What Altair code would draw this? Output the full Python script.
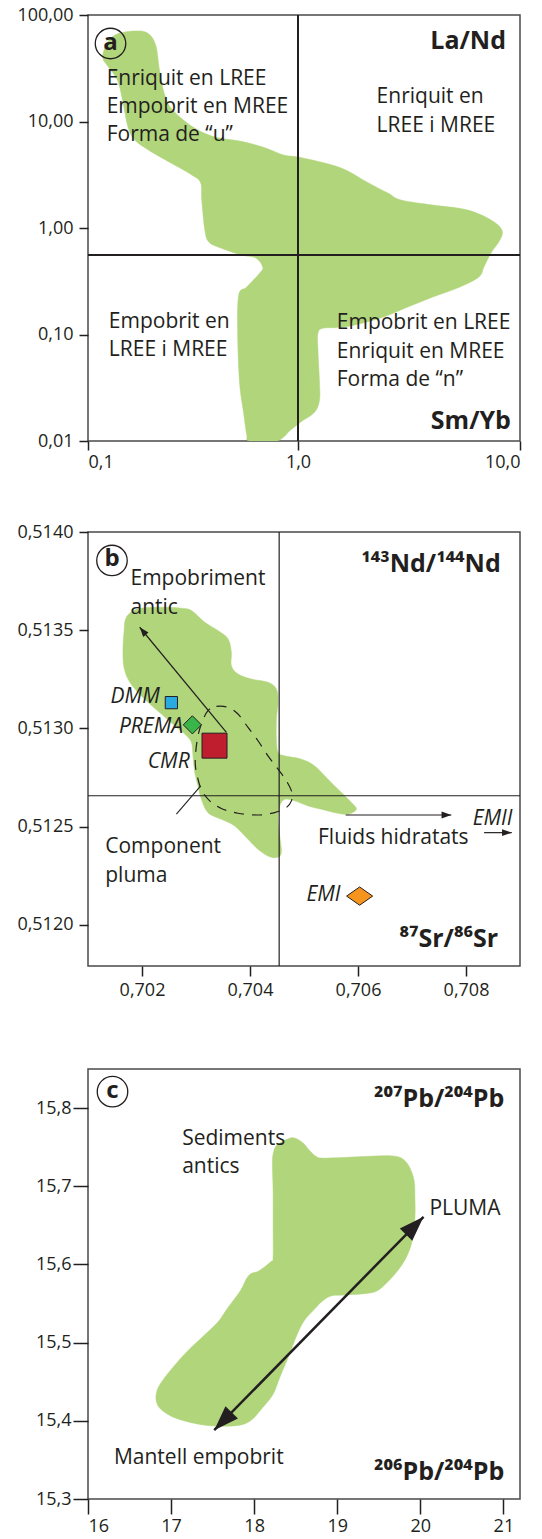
import altair as alt
import pandas as pd

GREEN = "#b1d57b"
INK = "#231f20"
FRAME = "#4a4a4a"
FONT = "Open Sans"
ARROW = "M0,0L-0.35,1L0.35,1Z"
FLAT_DIAMOND = "M-1,0L0,-0.7L1,0L0,0.7Z"

# ---------------- panel a : La/Nd vs Sm/Yb ----------------
A_POLY_X = [0.1175, 0.124, 0.138, 0.167, 0.192, 0.210, 0.219, 0.232, 0.253, 0.316,
            0.401, 0.527, 0.679, 0.855, 1.0, 1.32, 1.64, 2.04, 2.54, 2.91,
            4.05, 5.77, 7.40, 8.29, 8.12, 7.40, 6.88, 6.53, 5.36, 4.05,
            3.12, 2.36, 1.64, 1.31, 1.23, 1.23, 1.25, 1.25, 1.19, 1.03,
            0.923, 0.793, 0.589, 0.570, 0.551, 0.527, 0.516, 0.522, 0.570, 0.658,
            0.679, 0.630, 0.539, 0.428, 0.376, 0.360, 0.348, 0.344, 0.312, 0.234,
            0.194, 0.167, 0.155, 0.146, 0.138, 0.124]
A_POLY_Y = [40.3, 55.7, 66.4, 70.8, 67.8, 52.3, 30.5, 17.7, 12.8, 8.87,
            7.14, 6.56, 5.77, 4.84, 4.64, 4.07, 3.51, 2.71, 2.13, 1.83,
            1.64, 1.48, 1.19, 0.957, 0.771, 0.582, 0.431, 0.347, 0.279, 0.225,
            0.181, 0.143, 0.118, 0.115, 0.103, 0.0715, 0.0351, 0.0243, 0.0187, 0.0151,
            0.0127, 0.01, 0.01, 0.0114, 0.0183, 0.0351, 0.103, 0.235, 0.279, 0.378,
            0.431, 0.523, 0.557, 0.649, 0.740, 0.957, 1.83, 2.65, 3.15, 4.35,
            5.40, 6.70, 8.87, 15.9, 24.5, 33.2]
A_VLINE = 1.0
A_HLINE = 0.557
A_TXT = ["Enriquit en LREE", "Empobrit en MREE", "Forma de \u201cu\u201d",
         "Enriquit en", "LREE i MREE",
         "Empobrit en", "LREE i  MREE",
         "Empobrit en LREE", "Enriquit en MREE", "Forma de \u201cn\u201d"]
A_TXT_X = [0.1227, 0.1227, 0.1227, 2.26, 2.26, 0.1256, 0.1256, 1.495, 1.495, 1.495]
A_TXT_Y = [25.1, 13.7, 7.46, 17.0, 9.08, 0.131, 0.0715, 0.128, 0.0686, 0.0374]
A_BOLD = ["La/Nd", "Sm/Yb"]
A_BOLD_X = [8.65, 9.1]
A_BOLD_Y = [57.1, 0.0154]
A_TAG = ["a"]
A_TAG_X = [0.128]
A_TAG_Y = [54.0]
A_XTICKS = [0.1, 1, 10]
A_YTICKS = [0.01, 0.1, 1, 10, 100]

# ---------------- panel b : 143Nd/144Nd vs 87Sr/86Sr ----------------
B_POLY_X = [0.701667, 0.701711, 0.701926, 0.702359, 0.702730, 0.702915, 0.703161, 0.703407, 0.703593, 0.703655,
            0.703655, 0.703778, 0.704026, 0.704333, 0.704489, 0.704519, 0.704489, 0.704489, 0.704519, 0.704643,
            0.704952, 0.705198, 0.705444, 0.705693, 0.705878, 0.705970, 0.705815, 0.705569, 0.705322, 0.705074,
            0.704828, 0.704643, 0.704550, 0.704519, 0.704550, 0.704581, 0.704489, 0.704333, 0.704148, 0.703963,
            0.703717, 0.703470, 0.703222, 0.703100, 0.703037, 0.702976, 0.702944, 0.702915, 0.702791, 0.702606,
            0.702359, 0.702111, 0.701896, 0.701741, 0.701661, 0.701648]
B_POLY_Y = [0.513490, 0.513566, 0.513609, 0.513617, 0.513612, 0.513600, 0.513541, 0.513498, 0.513456, 0.513388,
            0.513319, 0.513277, 0.513251, 0.513235, 0.513200, 0.513133, 0.513047, 0.512945, 0.512878, 0.512860,
            0.512843, 0.512809, 0.512741, 0.512673, 0.512622, 0.512588, 0.512563, 0.512571, 0.512588, 0.512605,
            0.512631, 0.512639, 0.512605, 0.512537, 0.512452, 0.512367, 0.512342, 0.512350, 0.512384, 0.512435,
            0.512503, 0.512537, 0.512571, 0.512639, 0.512707, 0.512776, 0.512860, 0.512929, 0.512971, 0.513013,
            0.513073, 0.513133, 0.513192, 0.513251, 0.513319, 0.513405]
B_ELL_X = [0.703222, 0.703378, 0.703593, 0.703778, 0.703963, 0.704148, 0.704333, 0.704519, 0.704674, 0.704778,
           0.704767, 0.704674, 0.704457, 0.704148, 0.703778, 0.703470, 0.703254, 0.703111, 0.703037, 0.702989,
           0.702994, 0.703037, 0.703111]
B_ELL_Y = [0.513090, 0.513112, 0.513107, 0.513073, 0.513005, 0.512937, 0.512860, 0.512792, 0.512733, 0.512673,
           0.512631, 0.512597, 0.512571, 0.512559, 0.512568, 0.512592, 0.512631, 0.512682, 0.512741, 0.512809,
           0.512878, 0.512962, 0.513031]
B_VLINE = 0.70454
B_HLINE = 0.512657
B_MARK_NAME = ["DMM", "PREMA", "CMR", "EMI"]
B_MARK_X = [0.702544, 0.702933, 0.703343, 0.706030]
B_MARK_Y = [0.513131, 0.513018, 0.512912, 0.512146]
B_MARK_LX = [0.702328, 0.702759, 0.702883, 0.705676]
B_MARK_LY = [0.513158, 0.513005, 0.512830, 0.512149]
B_TXT = ["Empobriment", "antic", "Component", "pluma", "Fluids hidratats"]
B_TXT_X = [0.701787, 0.701787, 0.701319, 0.701319, 0.705259]
B_TXT_Y = [0.513762, 0.513614, 0.512396, 0.512248, 0.512444]
B_EMII = ["EMII"]
B_EMII_X = [0.708124]
B_EMII_Y = [0.512537]
B_BOLD = ["\u00b9\u2074\u00b3Nd/\u00b9\u2074\u2074Nd", "\u2078\u2077Sr/\u2078\u2076Sr"]
B_BOLD_X = [0.708643, 0.708593]
B_BOLD_Y = [0.513838, 0.511925]
B_TAG = ["b"]
B_TAG_X = [0.701444]
B_TAG_Y = [0.513855]
# arrows: start -> tip
B_ARR_X1 = [0.703563, 0.705772, 0.708335]
B_ARR_Y1 = [0.512980, 0.512559, 0.512469]
B_ARR_X2 = [0.701957, 0.707728, 0.708848]
B_ARR_Y2 = [0.513515, 0.512559, 0.512469]
B_ARR_ANGLE = [320.4, 90, 90]
B_LEAD_X1, B_LEAD_Y1, B_LEAD_X2, B_LEAD_Y2 = [0.702637], [0.512563], [0.703087], [0.512707]
B_XTICKS = [0.702, 0.704, 0.706, 0.708]
B_YTICKS = [0.512, 0.5125, 0.513, 0.5135, 0.514]

# ---------------- panel c : 207Pb/204Pb vs 206Pb/204Pb ----------------
C_POLY_X = [18.220, 18.228, 18.269, 18.394, 18.477, 18.582, 18.665, 18.748, 18.853, 19.310,
            19.643, 19.789, 19.872, 19.926, 19.935, 19.935, 19.902, 19.831, 19.727, 19.601,
            19.477, 19.352, 19.102, 18.936, 18.831, 18.727, 18.602, 18.519, 18.457, 18.394,
            18.311, 18.228, 18.103, 17.978, 17.852, 17.644, 17.436, 17.228, 17.019, 16.874,
            16.820, 16.832, 16.894, 17.019, 17.187, 17.395, 17.561, 17.686, 17.832, 17.935,
            18.061, 18.206, 18.228, 18.228, 18.228]
C_POLY_Y = [15.728, 15.741, 15.752, 15.760, 15.762, 15.756, 15.746, 15.738, 15.736, 15.738,
            15.739, 15.735, 15.724, 15.707, 15.686, 15.660, 15.630, 15.609, 15.592, 15.577,
            15.566, 15.563, 15.561, 15.560, 15.554, 15.543, 15.528, 15.511, 15.494, 15.477,
            15.456, 15.434, 15.417, 15.402, 15.395, 15.393, 15.394, 15.398, 15.405, 15.415,
            15.426, 15.439, 15.451, 15.468, 15.488, 15.509, 15.526, 15.545, 15.566, 15.586,
            15.592, 15.604, 15.609, 15.652, 15.694]
C_TXT = ["Sediments", "antics", "PLUMA", "Mantell empobrit"]
C_TXT_X = [17.133, 17.133, 20.110, 16.312]
C_TXT_Y = [15.761, 15.725, 15.671, 15.352]
C_BOLD = ["\u00b2\u2070\u2077Pb/\u00b2\u2070\u2074Pb", "\u00b2\u2070\u2076Pb/\u00b2\u2070\u2074Pb"]
C_BOLD_X = [21.010, 21.010]
C_BOLD_Y = [15.812, 15.335]
C_TAG = ["c"]
C_TAG_X = [16.295]
C_TAG_Y = [15.821]
C_ARR_X = [17.519, 20.039]
C_ARR_Y = [15.388, 15.661]
C_ARR_ANGLE = [224.5, 44.5]
C_XTICKS = [16, 17, 18, 19, 20, 21]
C_YTICKS = [15.3, 15.4, 15.5, 15.6, 15.7, 15.8]


def comma_expr(decimals):
    return "replace(format(datum.value, '.%df'), '.', ',')" % decimals


def make_panel(xenc, yenc, poly, texts, bolds, tag, extra, w, h):
    px, py = poly
    pdf = pd.DataFrame({"x": px, "y": py, "i": list(range(len(px)))})
    layers = [
        alt.Chart(pdf).mark_line(fill=GREEN, stroke=GREEN, strokeWidth=0.5,
                                 interpolate="cardinal-closed", clip=True)
        .encode(x=xenc, y=yenc, order=alt.Order("i:Q"))
    ]
    layers += extra
    for (t, tx, ty, size, weight, style, align) in texts + bolds:
        df = pd.DataFrame({"x": tx, "y": ty, "t": t})
        layers.append(
            alt.Chart(df).mark_text(font=FONT, fontSize=size, fontWeight=weight,
                                    fontStyle=style, align=align, baseline="middle",
                                    color=INK)
            .encode(x=xenc, y=yenc, text="t:N"))
    tt, tx, ty = tag
    tdf = pd.DataFrame({"x": tx, "y": ty, "t": tt})
    layers.append(alt.Chart(tdf).mark_point(shape="circle", size=930, filled=False,
                                            stroke=INK, strokeWidth=1.3, opacity=1)
                  .encode(x=xenc, y=yenc))
    layers.append(alt.Chart(tdf).mark_text(font=FONT, fontSize=24, fontWeight="bold",
                                           baseline="middle", align="center", color=INK, dy=-1)
                  .encode(x=xenc, y=yenc, text="t:N"))
    return alt.layer(*layers).properties(width=w, height=h)


# ---- panel a
xa = alt.X("x:Q", title=None,
           scale=alt.Scale(type="log", domain=[0.1, 1, 10], range=[0, 210, 432]),
           axis=alt.Axis(values=A_XTICKS, labelExpr=comma_expr(1), tickSize=9, labelPadding=3))
ya = alt.Y("y:Q", title=None,
           scale=alt.Scale(type="log", domain=[0.01, 100]),
           axis=alt.Axis(values=A_YTICKS, labelExpr=comma_expr(2), tickSize=9, labelPadding=6))
a_lines = [
    alt.Chart(pd.DataFrame({"x": [A_VLINE]})).mark_rule(color=INK, strokeWidth=2).encode(x=xa),
    alt.Chart(pd.DataFrame({"y": [A_HLINE]})).mark_rule(color=INK, strokeWidth=2).encode(y=ya),
]
panel_a = make_panel(
    xa, ya, (A_POLY_X, A_POLY_Y),
    [(A_TXT, A_TXT_X, A_TXT_Y, 21, "normal", "normal", "left")],
    [(A_BOLD, A_BOLD_X, A_BOLD_Y, 25, "bold", "normal", "right")],
    (A_TAG, A_TAG_X, A_TAG_Y), a_lines, 432, 426)

# ---- panel b
xb = alt.X("x:Q", title=None, scale=alt.Scale(domain=[0.701, 0.709], nice=False, zero=False),
           axis=alt.Axis(values=B_XTICKS, labelExpr=comma_expr(3), tickSize=10, labelPadding=5))
yb = alt.Y("y:Q", title=None, scale=alt.Scale(domain=[0.51179, 0.5140], nice=False, zero=False),
           axis=alt.Axis(values=B_YTICKS, labelExpr=comma_expr(4), tickSize=9, labelPadding=6))
ell = pd.DataFrame({"x": B_ELL_X, "y": B_ELL_Y, "i": list(range(len(B_ELL_X)))})
mk = pd.DataFrame({"x": B_MARK_X, "y": B_MARK_Y, "n": B_MARK_NAME})
arr = pd.DataFrame({"x": B_ARR_X1, "y": B_ARR_Y1, "x2": B_ARR_X2, "y2": B_ARR_Y2})
heads = pd.DataFrame({"x": B_ARR_X2, "y": B_ARR_Y2, "a": B_ARR_ANGLE})
lead = pd.DataFrame({"x": B_LEAD_X1, "y": B_LEAD_Y1, "x2": B_LEAD_X2, "y2": B_LEAD_Y2})
b_extra = [
    alt.Chart(pd.DataFrame({"x": [B_VLINE]})).mark_rule(color=INK, strokeWidth=1.2).encode(x=xb),
    alt.Chart(pd.DataFrame({"y": [B_HLINE]})).mark_rule(color=INK, strokeWidth=1.2).encode(y=yb),
    alt.Chart(ell).mark_line(color=INK, strokeWidth=1.2, strokeDash=[10, 8],
                             interpolate="cardinal-closed")
    .encode(x=xb, y=yb, order=alt.Order("i:Q")),
    alt.Chart(arr).mark_rule(color=INK, strokeWidth=1.2)
    .encode(x=xb, y=yb, x2="x2:Q", y2="y2:Q"),
    alt.Chart(lead).mark_rule(color=INK, strokeWidth=1.1)
    .encode(x=xb, y=yb, x2="x2:Q", y2="y2:Q"),
    alt.Chart(heads).mark_point(shape=ARROW, size=380, filled=True, color=INK, opacity=1)
    .encode(x=xb, y=yb, angle=alt.Angle("a:Q", scale=None)),
    alt.Chart(mk[mk.n == "DMM"]).mark_point(shape="square", size=150, filled=True, fill="#29abe2",
                                            stroke=INK, strokeWidth=1, opacity=1).encode(x=xb, y=yb),
    alt.Chart(mk[mk.n == "PREMA"]).mark_point(shape="diamond", size=330, filled=True, fill="#39b54a",
                                              stroke=INK, strokeWidth=1, opacity=1).encode(x=xb, y=yb),
    alt.Chart(mk[mk.n == "CMR"]).mark_point(shape="square", size=625, filled=True, fill="#be1e2d",
                                            stroke=INK, strokeWidth=1, opacity=1).encode(x=xb, y=yb),
    alt.Chart(mk[mk.n == "EMI"]).mark_point(shape=FLAT_DIAMOND, size=680, filled=True, fill="#f7941d",
                                            stroke=INK, strokeWidth=1, opacity=1).encode(x=xb, y=yb),
]
panel_b = make_panel(
    xb, yb, (B_POLY_X, B_POLY_Y),
    [(B_TXT, B_TXT_X, B_TXT_Y, 21, "normal", "normal", "left"),
     (B_MARK_NAME, B_MARK_LX, B_MARK_LY, 21, "normal", "italic", "right"),
     (B_EMII, B_EMII_X, B_EMII_Y, 21, "normal", "italic", "left")],
    [(B_BOLD, B_BOLD_X, B_BOLD_Y, 25, "bold", "normal", "right")],
    (B_TAG, B_TAG_X, B_TAG_Y), b_extra, 432, 434)

# ---- panel c
xc = alt.X("x:Q", title=None, scale=alt.Scale(domain=[16, 21.2], nice=False, zero=False),
           axis=alt.Axis(values=C_XTICKS, format="d", tickSize=15, labelPadding=3))
yc = alt.Y("y:Q", title=None, scale=alt.Scale(domain=[15.3, 15.85], nice=False, zero=False),
           axis=alt.Axis(values=C_YTICKS, labelExpr=comma_expr(1), tickSize=15, labelPadding=2))
carr = pd.DataFrame({"x": [C_ARR_X[0]], "y": [C_ARR_Y[0]], "x2": [C_ARR_X[1]], "y2": [C_ARR_Y[1]]})
cheads = pd.DataFrame({"x": C_ARR_X, "y": C_ARR_Y, "a": C_ARR_ANGLE})
c_extra = [
    alt.Chart(carr).mark_rule(color=INK, strokeWidth=2.5).encode(x=xc, y=yc, x2="x2:Q", y2="y2:Q"),
    alt.Chart(cheads).mark_point(shape=ARROW, size=2500, filled=True, color=INK, opacity=1)
    .encode(x=xc, y=yc, angle=alt.Angle("a:Q", scale=None)),
]
panel_c = make_panel(
    xc, yc, (C_POLY_X, C_POLY_Y),
    [(C_TXT, C_TXT_X, C_TXT_Y, 21, "normal", "normal", "left")],
    [(C_BOLD, C_BOLD_X, C_BOLD_Y, 25, "bold", "normal", "right")],
    (C_TAG, C_TAG_X, C_TAG_Y), c_extra, 432, 430)

chart = (
    alt.vconcat(alt.vconcat(panel_a, panel_b, spacing=50), panel_c, spacing=68)
    .properties(padding={"left": 16, "top": 5, "right": 4, "bottom": 2}, background="white")
    .configure_view(stroke=FRAME, strokeWidth=1.5)
    .configure_axis(labelFont=FONT, labelFontSize=18, labelColor=INK, tickColor=INK,
                    tickWidth=1.5, domain=False, grid=False)
)

chart.save("out.html", embed_options={"renderer": "svg", "actions": False})
